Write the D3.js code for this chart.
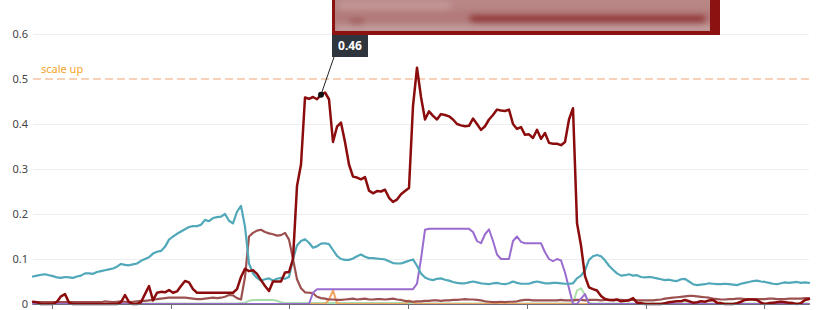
<!DOCTYPE html>
<html>
<head>
<meta charset="utf-8">
<script src="https://cdn.jsdelivr.net/npm/d3@7"></script>
<style>
  body { margin: 0; background: #fff; }
  svg { display: block; overflow: hidden; font-family: "Noto Sans", "Open Sans", sans-serif; }
  .grid line { stroke: #eeeeee; }
  .grid path { display: none; }
  .line { fill: none; stroke-linejoin: round; stroke-linecap: round; }
</style>
</head>
<body>
<div id="chart"></div>
<script>
const width = 830;
const height = 310;

// samples are evenly spaced in time, index 0..194
const mainSeries = [
  0.005, 0.004, 0, 0, 0, 0, 0.005, 0.017, 0.022, 0.003,
  0, 0, 0, 0, 0, 0, 0, 0, 0, 0,
  0, 0, 0.004, 0.02, 0.004, 0, 0, 0.004, 0.022, 0.04,
  0.008, 0.025, 0.027, 0.026, 0.031, 0.025, 0.028, 0.04, 0.051, 0.048,
  0.033, 0.025, 0.025, 0.025, 0.025, 0.025, 0.025, 0.025, 0.025, 0.025,
  0.025, 0.033, 0.06, 0.078, 0.073, 0.075, 0.067, 0.053, 0.04, 0.029,
  0.05, 0.05, 0.05, 0.07, 0.071, 0.1, 0.262, 0.31, 0.459, 0.456,
  0.46, 0.455, 0.465, 0.47, 0.455, 0.36, 0.394, 0.403, 0.36, 0.31,
  0.283, 0.281, 0.277, 0.282, 0.252, 0.246, 0.251, 0.25, 0.254, 0.236,
  0.227, 0.232, 0.244, 0.251, 0.258, 0.44, 0.525, 0.46, 0.41, 0.428,
  0.418, 0.41, 0.422, 0.42, 0.417, 0.41, 0.4, 0.397, 0.395, 0.396,
  0.412, 0.4, 0.387, 0.395, 0.41, 0.42, 0.432, 0.43, 0.429, 0.432,
  0.4, 0.389, 0.393, 0.376, 0.377, 0.369, 0.387, 0.367, 0.38, 0.358,
  0.356, 0.356, 0.353, 0.36, 0.41, 0.435, 0.18, 0.13, 0.062, 0.037,
  0.033, 0.03, 0.018, 0.011, 0.009, 0.009, 0.01, 0.006, 0.007, 0.008,
  0.013, 0.003, 0.002, 0, 0, 0, 0, 0, 0.002, 0.004,
  0.005, 0.006, 0.006, 0.009, 0.006, 0.003, 0.004, 0.006, 0.005, 0.008,
  0.009, 0.003, 0.002, 0, 0, 0, 0.002, 0.005, 0.009, 0.01,
  0.01, 0.009, 0.003, 0, 0.002, 0.003, 0.004, 0.005, 0.004, 0.003,
  0.002, 0, 0.002, 0.009, 0.011
];

const tealSeries = [
  0.061, 0.063, 0.065, 0.066, 0.064, 0.062, 0.059, 0.058, 0.06, 0.059,
  0.058, 0.061, 0.063, 0.068, 0.068, 0.067, 0.071, 0.073, 0.075, 0.077,
  0.079, 0.083, 0.089, 0.087, 0.086, 0.088, 0.09, 0.096, 0.1, 0.104,
  0.112, 0.116, 0.118, 0.127, 0.143, 0.15, 0.156, 0.161, 0.166, 0.171,
  0.173, 0.173, 0.176, 0.187, 0.184, 0.191, 0.193, 0.194, 0.2, 0.185,
  0.179, 0.205, 0.218, 0.172, 0.09, 0.068, 0.058, 0.052, 0.055, 0.057,
  0.052, 0.056, 0.058, 0.056, 0.06, 0.1, 0.13, 0.14, 0.144, 0.136,
  0.125, 0.128, 0.134, 0.135, 0.133, 0.12, 0.107, 0.1, 0.098, 0.098,
  0.101, 0.106, 0.11, 0.105, 0.102, 0.102, 0.101, 0.1, 0.099, 0.095,
  0.091, 0.09, 0.09, 0.093, 0.096, 0.099, 0.085, 0.068, 0.059, 0.055,
  0.053, 0.056, 0.057, 0.054, 0.052, 0.049, 0.047, 0.046, 0.046, 0.048,
  0.05, 0.048, 0.046, 0.045, 0.044, 0.046, 0.047, 0.045, 0.044, 0.046,
  0.05, 0.047, 0.045, 0.045, 0.045, 0.048, 0.05, 0.048, 0.046, 0.046,
  0.047, 0.047, 0.046, 0.045, 0.045, 0.046, 0.057, 0.063, 0.075, 0.098,
  0.106, 0.109, 0.106, 0.097, 0.085, 0.076, 0.068, 0.063, 0.064, 0.066,
  0.063, 0.064, 0.06, 0.059, 0.06, 0.059, 0.057, 0.055, 0.053, 0.054,
  0.052, 0.051, 0.055, 0.056, 0.05, 0.044, 0.042, 0.043, 0.044, 0.046,
  0.045, 0.044, 0.044, 0.045, 0.044, 0.043, 0.042, 0.045, 0.047, 0.049,
  0.051, 0.052, 0.05, 0.049, 0.047, 0.045, 0.044, 0.046, 0.048, 0.047,
  0.048, 0.049, 0.047, 0.048, 0.047
];

const brownSeries = [
  0.004, 0.004, 0.004, 0.004, 0.004, 0.004, 0.004, 0.004, 0.004, 0.004,
  0.004, 0.004, 0.004, 0.004, 0.004, 0.004, 0.004, 0.004, 0.006, 0.005,
  0.004, 0.005, 0.006, 0.005, 0.004, 0.005, 0.006, 0.007, 0.007, 0.008,
  0.009, 0.011, 0.012, 0.013, 0.014, 0.014, 0.014, 0.014, 0.014, 0.013,
  0.012, 0.011, 0.011, 0.012, 0.013, 0.014, 0.013, 0.014, 0.016, 0.02,
  0.019, 0.013, 0.01, 0.06, 0.15, 0.158, 0.163, 0.165, 0.16, 0.157,
  0.155, 0.152, 0.153, 0.158, 0.143, 0.1, 0.055, 0.035, 0.026, 0.025,
  0.024, 0.016, 0.013, 0.012, 0.01, 0.01, 0.009, 0.009, 0.01, 0.011,
  0.012, 0.01, 0.011, 0.012, 0.01, 0.01, 0.011, 0.011, 0.01, 0.011,
  0.012, 0.01, 0.009, 0.007, 0.006, 0.005, 0.006, 0.006, 0.007, 0.007,
  0.008, 0.008, 0.007, 0.008, 0.008, 0.009, 0.009, 0.01, 0.011, 0.01,
  0.01, 0.009, 0.008, 0.006, 0.005, 0.004, 0.004, 0.005, 0.004, 0.005,
  0.005, 0.006, 0.008, 0.009, 0.009, 0.008, 0.008, 0.008, 0.008, 0.008,
  0.008, 0.008, 0.009, 0.008, 0.008, 0.008, 0.009, 0.009, 0.008, 0.009,
  0.009, 0.009, 0.008, 0.009, 0.009, 0.008, 0.009, 0.009, 0.008, 0.009,
  0.009, 0.008, 0.008, 0.008, 0.008, 0.008, 0.009, 0.01, 0.012, 0.013,
  0.014, 0.015, 0.016, 0.017, 0.018, 0.018, 0.017, 0.016, 0.015, 0.014,
  0.012, 0.011, 0.01, 0.01, 0.011, 0.011, 0.012, 0.012, 0.011, 0.011,
  0.011, 0.011, 0.011, 0.011, 0.012, 0.012, 0.011, 0.011, 0.011, 0.012,
  0.012, 0.012, 0.012, 0.013, 0.013
];

const purpleSeries = [
  0, 0, 0, 0, 0, 0, 0, 0, 0, 0,
  0, 0, 0, 0, 0, 0, 0, 0, 0, 0,
  0, 0, 0, 0, 0, 0, 0, 0, 0, 0,
  0, 0, 0, 0, 0, 0, 0, 0, 0, 0,
  0, 0, 0, 0, 0, 0, 0, 0, 0, 0,
  0, 0, 0, 0, 0, 0, 0, 0, 0, 0,
  0, 0, 0, 0, 0, 0, 0, 0, 0, 0,
  0.025, 0.033, 0.033, 0.033, 0.033, 0.033, 0.033, 0.033, 0.033, 0.033,
  0.033, 0.033, 0.033, 0.033, 0.033, 0.033, 0.033, 0.033, 0.033, 0.033,
  0.033, 0.033, 0.033, 0.033, 0.033, 0.033, 0.045, 0.1, 0.165, 0.167,
  0.167, 0.167, 0.167, 0.167, 0.167, 0.167, 0.167, 0.167, 0.167, 0.167,
  0.16, 0.14, 0.135, 0.155, 0.166, 0.14, 0.11, 0.1, 0.1, 0.1,
  0.14, 0.15, 0.138, 0.135, 0.135, 0.135, 0.135, 0.135, 0.115, 0.1,
  0.095, 0.1, 0.097, 0.07, 0.035, 0, 0, 0.012, 0.022, 0,
  0, 0, 0, 0, 0, 0, 0, 0, 0, 0,
  0, 0, 0, 0, 0, 0, 0, 0, 0, 0,
  0, 0, 0, 0, 0, 0, 0, 0, 0, 0,
  0, 0, 0, 0, 0, 0, 0, 0, 0, 0,
  0, 0, 0, 0, 0, 0, 0, 0, 0, 0,
  0, 0, 0, 0, 0
];

const orangeSeries = [
  0, 0, 0, 0, 0, 0, 0, 0, 0, 0,
  0, 0, 0, 0, 0, 0, 0, 0, 0, 0,
  0, 0, 0, 0, 0, 0, 0, 0, 0, 0,
  0, 0, 0, 0, 0, 0, 0, 0, 0, 0,
  0, 0, 0, 0, 0, 0, 0, 0, 0, 0,
  0, 0, 0, 0, 0, 0, 0, 0, 0, 0,
  0, 0, 0, 0, 0, 0, 0, 0, 0, 0,
  0, 0, 0, 0, 0.01, 0.03, 0.002, 0, 0, 0,
  0, 0, 0, 0, 0, 0, 0, 0, 0, 0,
  0, 0, 0, 0, 0.008, 0.004, 0, 0, 0, 0,
  0, 0, 0, 0, 0, 0, 0, 0, 0, 0,
  0, 0, 0, 0, 0, 0, 0, 0, 0, 0,
  0, 0, 0, 0, 0, 0, 0, 0, 0, 0,
  0, 0, 0, 0, 0, 0, 0, 0, 0, 0,
  0, 0, 0, 0, 0, 0, 0, 0, 0, 0,
  0, 0, 0, 0, 0, 0, 0, 0, 0, 0,
  0, 0, 0, 0, 0, 0, 0, 0, 0, 0,
  0, 0, 0, 0, 0, 0, 0, 0, 0, 0,
  0, 0, 0, 0, 0, 0, 0, 0, 0, 0,
  0, 0, 0, 0, 0
];

const greenSeries = [
  0.001, 0.001, 0.001, 0.001, 0.001, 0.001, 0.001, 0.001, 0.001, 0.001,
  0.001, 0.001, 0.001, 0.001, 0.001, 0.001, 0.001, 0.001, 0.001, 0.001,
  0.001, 0.001, 0.001, 0.001, 0.001, 0.001, 0.001, 0.001, 0.001, 0.001,
  0.001, 0.001, 0.001, 0.001, 0.001, 0.001, 0.001, 0.001, 0.001, 0.001,
  0.001, 0.001, 0.001, 0.001, 0.001, 0.001, 0.001, 0.001, 0.001, 0.001,
  0.001, 0.001, 0.002, 0.003, 0.007, 0.009, 0.009, 0.009, 0.009, 0.009,
  0.009, 0.007, 0.004, 0.002, 0.002, 0.002, 0.002, 0.002, 0.002, 0.002,
  0.002, 0.002, 0.002, 0.002, 0.002, 0.002, 0.002, 0.002, 0.002, 0.002,
  0.002, 0.002, 0.002, 0.002, 0.002, 0.002, 0.002, 0.002, 0.002, 0.002,
  0.002, 0.002, 0.002, 0.002, 0.002, 0.002, 0.001, 0.001, 0.001, 0.001,
  0.001, 0.001, 0.001, 0.001, 0.001, 0.001, 0.001, 0.001, 0.001, 0.001,
  0.001, 0.001, 0.001, 0.001, 0.001, 0.001, 0.001, 0.001, 0.001, 0.001,
  0.001, 0.001, 0.001, 0.001, 0.001, 0.001, 0.001, 0.001, 0.001, 0.001,
  0.001, 0.001, 0.001, 0.001, 0.001, 0.002, 0.03, 0.035, 0.02, 0.002,
  0.001, 0.001, 0.001, 0.001, 0.001, 0.001, 0.001, 0.001, 0.001, 0.001,
  0.001, 0.001, 0.001, 0.001, 0.001, 0.001, 0.001, 0.001, 0.001, 0.001,
  0.001, 0.001, 0.001, 0.001, 0.001, 0.001, 0.001, 0.001, 0.001, 0.001,
  0.001, 0.001, 0.001, 0.001, 0.001, 0.001, 0.001, 0.001, 0.001, 0.001,
  0.001, 0.001, 0.001, 0.001, 0.001, 0.001, 0.001, 0.001, 0.001, 0.001,
  0.001, 0.001, 0.001, 0.001, 0.001
];

const yTicks = [0, 0.1, 0.2, 0.3, 0.4, 0.5, 0.6];
// x tick positions, in sample index units (labels fall below the frame)
const xTicks = [4.75, 34.5, 64, 93.75, 123.5, 153.25, 182.75];
const threshold = 0.5;
const thresholdLabel = 'scale up';
const markIndex = 72;
const markLabel = '0.46';

const svg = d3.select('#chart')
  .append('svg')
  .attr('width', width)
  .attr('height', height);

const x = d3.scaleLinear()
  .domain([0, mainSeries.length - 1])
  .range([33, 809]);

const y = d3.scaleLinear()
  .domain([0, 0.6])
  .range([304, 34]);

// grid + y labels
svg.append('g')
  .attr('class', 'grid')
  .attr('transform', 'translate(33,0)')
  .call(d3.axisLeft(y).tickValues(yTicks).tickSize(-776).tickFormat(''))
  .selectAll('line')
  .filter(d => d === 0 || d === threshold)
  .remove();

svg.append('g')
  .selectAll('text')
  .data(yTicks)
  .enter()
  .append('text')
  .attr('x', 28)
  .attr('y', d => y(d))
  .attr('dy', '0.35em')
  .style('text-anchor', 'end')
  .style('font-size', '11px')
  .style('fill', '#444')
  .text(d => d === 0 ? '0' : d3.format('.1f')(d));

// threshold line
svg.append('line')
  .attr('x1', 33)
  .attr('x2', 809)
  .attr('y1', y(threshold))
  .attr('y2', y(threshold))
  .style('stroke', '#f4c4a4')
  .style('stroke-width', 1.5)
  .style('stroke-dasharray', '8,4');

svg.append('text')
  .attr('x', 41)
  .attr('y', y(threshold) - 6)
  .text(thresholdLabel)
  .style('font-size', '11px')
  .style('fill', '#f5a32a');

const line = d3.line()
  .x((d, i) => x(i))
  .y(d => y(d));

const series = [
  { values: greenSeries, color: '#a9deaa', w: 2, op: 1 },
  { values: orangeSeries, color: '#f0a562', w: 2, op: 1 },
  { values: brownSeries, color: '#9c5050', w: 2.2, op: 1 },
  { values: purpleSeries, color: '#9a6ccf', w: 2, op: 1 },
  { values: tealSeries, color: '#50a8b9', w: 2.2, op: 1 },
  { values: mainSeries, color: '#8b0c0c', w: 2.5, op: 1 }
];

svg.selectAll('.line')
  .data(series)
  .enter()
  .append('path')
  .attr('class', 'line')
  .attr('d', d => line(d.values))
  .style('stroke', d => d.color)
  .style('stroke-width', d => d.w)
  .style('stroke-opacity', d => d.op);

// x axis
const xAxis = svg.append('g')
  .attr('transform', 'translate(0,304)')
  .call(d3.axisBottom(x).tickValues(xTicks).tickSize(5).tickFormat('').tickSizeOuter(0));
xAxis.select('.domain').style('stroke', '#6e7079');
xAxis.selectAll('.tick line').style('stroke', '#6e7079');

// annotation for the marked point
const mx = x(markIndex);
const my = y(mainSeries[markIndex]);

svg.append('line')
  .attr('x1', 334)
  .attr('y1', 57)
  .attr('x2', mx)
  .attr('y2', my)
  .style('stroke', '#222')
  .style('stroke-width', 1);

svg.append('circle')
  .attr('cx', mx)
  .attr('cy', my)
  .attr('r', 3)
  .style('fill', '#111');

svg.append('rect')
  .attr('x', 332)
  .attr('y', 34)
  .attr('width', 36)
  .attr('height', 23)
  .style('fill', '#2f353c');

svg.append('text')
  .attr('x', 350)
  .attr('y', 46)
  .attr('dy', '0.35em')
  .text(markLabel)
  .style('text-anchor', 'middle')
  .style('font-size', '12px')
  .style('font-weight', 'bold')
  .style('fill', '#fff');

// blurred title panel at the top
const defs = svg.append('defs');
defs.append('filter')
  .attr('id', 'blur')
  .append('feGaussianBlur')
  .attr('stdDeviation', 3);
defs.append('clipPath')
  .attr('id', 'panelClip')
  .append('rect')
  .attr('x', 335)
  .attr('y', 0)
  .attr('width', 375)
  .attr('height', 31);

svg.append('rect')
  .attr('x', 332)
  .attr('y', -4)
  .attr('width', 388)
  .attr('height', 39)
  .style('fill', '#8c1111');

const panel = svg.append('g')
  .attr('clip-path', 'url(#panelClip)');

panel.append('rect')
  .attr('x', 335)
  .attr('y', 0)
  .attr('width', 375)
  .attr('height', 31)
  .style('fill', '#b27a7a');

const blurred = panel.append('g').attr('filter', 'url(#blur)');
blurred.append('rect')
  .attr('x', 330).attr('y', -6).attr('width', 390).attr('height', 16)
  .style('fill', '#b98686');
blurred.append('rect')
  .attr('x', 340).attr('y', 2).attr('width', 110).attr('height', 8)
  .style('fill', '#c49a9a');
blurred.append('rect')
  .attr('x', 470).attr('y', 15).attr('width', 235).attr('height', 9)
  .style('fill', '#943838');
blurred.append('rect')
  .attr('x', 350).attr('y', 20).attr('width', 14).attr('height', 8)
  .style('fill', '#9a4a4a');
blurred.append('rect')
  .attr('x', 335).attr('y', 25).attr('width', 380).attr('height', 8)
  .style('fill', '#c4a0a0');
</script>
</body>
</html>
